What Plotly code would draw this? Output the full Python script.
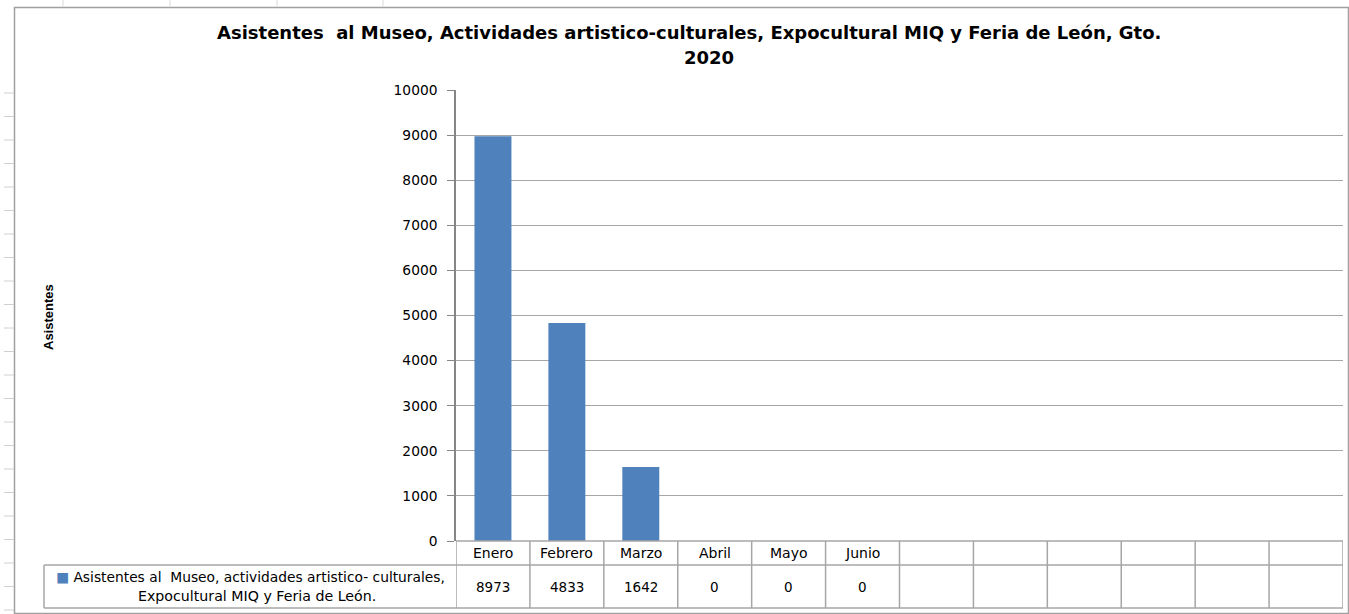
import plotly.graph_objects as go

# ---- data ----
months = ["Enero", "Febrero", "Marzo", "Abril", "Mayo", "Junio"]
values = [8973, 4833, 1642, 0, 0, 0]
n_slots = 12  # category slots shown on the axis/table
series_name_l1 = "Asistentes al  Museo, actividades artistico- culturales,"
series_name_l2 = "Expocultural MIQ y Feria de León."
title_l1 = "Asistentes  al Museo, Actividades artistico-culturales, Expocultural MIQ y Feria de León, Gto."
title_l2 = "2020"
y_title = "Asistentes"
y_ticks = [0, 1000, 2000, 3000, 4000, 5000, 6000, 7000, 8000, 9000, 10000]

W, H = 1349, 614
L, R, T, B = 456, 6, 90, 73
PW, PH = W - L - R, H - T - B

def px_x(p):
    return (p - L) / PW

def px_y(p):
    return (T + PH - p) / PH

BAR = "#4F81BD"
LINE = "#A6A6A6"
FONT = "DejaVu Sans"

fig = go.Figure()
fig.add_trace(go.Bar(
    x=list(range(len(months))), y=values, marker_color=BAR,
    marker_line_width=0, width=0.5, name=series_name_l1, showlegend=False,
))

shapes = []
# outer chart border
shapes.append(dict(type="rect", xref="paper", yref="paper",
                   x0=px_x(14.5), x1=px_x(1348.5), y0=px_y(613.5), y1=px_y(7.5),
                   line=dict(color="#A0A0A0", width=1.5), layer="below"))
# sheet row lines on the left (background spreadsheet)
yy = 93
while yy < 612:
    shapes.append(dict(type="line", xref="paper", yref="paper",
                       x0=px_x(4), x1=px_x(14), y0=px_y(yy), y1=px_y(yy),
                       line=dict(color="#D0D0D0", width=1)))
    yy += 23.5
for xx in [63, 170, 277, 383]:
    shapes.append(dict(type="line", xref="paper", yref="paper",
                       x0=px_x(xx), x1=px_x(xx), y0=px_y(0), y1=px_y(6),
                       line=dict(color="#D8D8D8", width=1)))

row1 = px_y(565)
row2 = px_y(608)
# table vertical lines
for k in range(n_slots + 1):
    shapes.append(dict(type="line", xref="x", yref="paper",
                       x0=k - 0.5, x1=k - 0.5, y0=row2, y1=0,
                       line=dict(color=LINE, width=1.5)))
# legend cell left border
shapes.append(dict(type="line", xref="paper", yref="paper",
                   x0=px_x(44), x1=px_x(44), y0=row2, y1=row1,
                   line=dict(color=LINE, width=1.5)))
# horizontal table lines
for yv in (row1, row2):
    shapes.append(dict(type="line", xref="paper", yref="paper",
                       x0=px_x(44), x1=1, y0=yv, y1=yv,
                       line=dict(color=LINE, width=1.5)))
shapes.append(dict(type="line", xref="paper", yref="paper",
                   x0=0, x1=1, y0=0, y1=0, line=dict(color=LINE, width=1.5)))

annotations = []
hdr_y = px_y(553)
val_y = px_y(587)
common = dict(showarrow=False, xanchor="center", yanchor="middle")
for i, m in enumerate(months):
    annotations.append(dict(x=i, y=hdr_y, xref="x", yref="paper", text=m,
                            font=dict(family=FONT, size=14, color="#000"), **common))
    annotations.append(dict(x=i, y=val_y, xref="x", yref="paper", text=str(values[i]),
                            font=dict(family=FONT, size=13.5, color="#000"), **common))
annotations.append(dict(x=px_x(250), y=px_y(577), xref="paper", yref="paper",
                        text=f"<span style='color:{BAR}'>■</span> " + series_name_l1,
                        font=dict(family=FONT, size=13.8, color="#000"), **common))
annotations.append(dict(x=px_x(257), y=px_y(596), xref="paper", yref="paper",
                        text=series_name_l2,
                        font=dict(family=FONT, size=14.2, color="#000"), **common))
annotations.append(dict(x=px_x(689), y=px_y(33), xref="paper", yref="paper",
                        text=f"<b>{title_l1}</b>",
                        font=dict(family=FONT, size=18, color="#000"), **common))
annotations.append(dict(x=px_x(709), y=px_y(58), xref="paper", yref="paper",
                        text=f"<b>{title_l2}</b>",
                        font=dict(family=FONT, size=18, color="#000"), **common))
annotations.append(dict(x=px_x(48), y=px_y(317), xref="paper", yref="paper",
                        text=f"<b>{y_title}</b>", textangle=-90,
                        font=dict(family="Liberation Sans", size=13, color="#000"), **common))

fig.update_layout(
    width=W, height=H,
    margin=dict(l=L, r=R, t=T, b=B, autoexpand=False),
    paper_bgcolor="white", plot_bgcolor="white",
    bargap=0.5,
    xaxis=dict(range=[-0.5, n_slots - 0.5], showticklabels=False, showgrid=False,
               zeroline=False, showline=False, ticks="", fixedrange=True),
    yaxis=dict(range=[0, 10000], tickvals=y_ticks, ticktext=[str(v) for v in y_ticks],
               showgrid=True, gridcolor="#A6A6A6",
               gridwidth=1, zeroline=False, showline=True, linecolor="#868686", linewidth=1.5,
               ticks="outside", ticklen=7, tickcolor="#868686", ticklabelstandoff=7,
               tickfont=dict(family=FONT, size=13.8, color="#000")),
    shapes=shapes, annotations=annotations,
)

fig.write_html("out.html", config={"displayModeBar": False},
               post_script="document.body.style.margin='0';document.body.style.overflow='hidden';")
